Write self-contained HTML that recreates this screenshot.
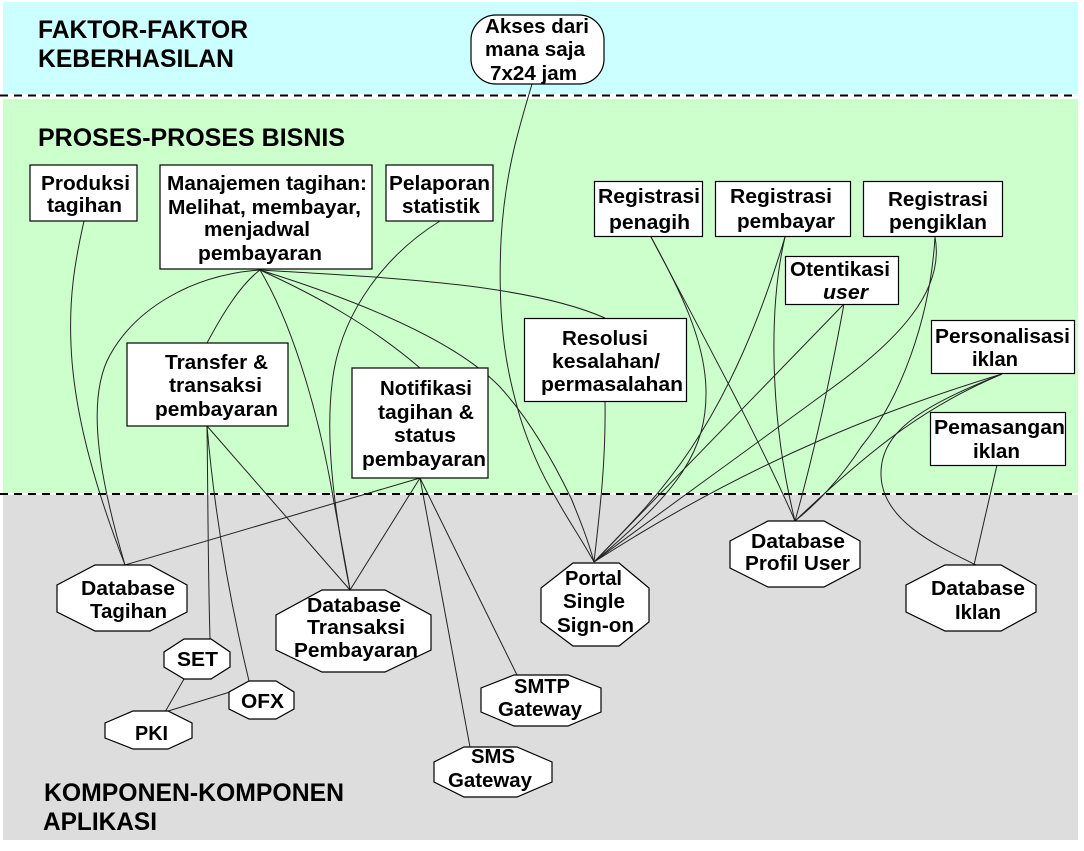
<!DOCTYPE html>
<html><head><meta charset="utf-8"><style>
html,body{margin:0;padding:0;background:#fff}
svg{display:block}
text{font-family:"Liberation Sans",sans-serif;font-weight:bold;font-size:20px;fill:#000}
.h{font-size:25px}
.b{fill:#fff;stroke:#000;stroke-width:1.2}
.c{fill:none;stroke:#222;stroke-width:1}
</style></head><body>
<svg width="1084" height="851" viewBox="0 0 1084 851" xmlns="http://www.w3.org/2000/svg">
<rect x="3" y="2" width="1075" height="92" fill="#ccffff"/>
<rect x="3" y="99" width="1075" height="394" fill="#ccffcc"/>
<rect x="3" y="495" width="1075" height="345" fill="#dddddd"/>
<path d="M0 95.5H1078M0 494H1078" stroke="#000" stroke-width="2" stroke-dasharray="8 6" fill="none"/>

<g class="c">
<path class="c" d="M532 84C520 125 505 170 501 240C497 330 508 375 520 417C532 455 545 480 556 498C568 520 582 540 594 562"/>
<path class="c" d="M84 221C74 265 69 300 71 345C74 420 100 500 125 565"/>
<path class="c" d="M260 270C190 275 135 310 110 355C85 400 100 480 125 565"/>
<path class="c" d="M260 270C240 285 222 315 207 343"/>
<path class="c" d="M260 270C315 295 370 325 420 368"/>
<path class="c" d="M260 270C290 320 315 400 330 480C338 525 345 560 350 590"/>
<path class="c" d="M260 270C340 295 450 335 500 387C530 420 555 465 571 498C580 520 588 540 594 562"/>
<path class="c" d="M260 270C400 278 530 285 605 318"/>
<path class="c" d="M440 221C385 255 345 310 334 370C322 440 338 530 350 590"/>
<path class="c" d="M207 426C208 500 208 570 210 639"/>
<path class="c" d="M207 426C215 520 232 610 249 681"/>
<path class="c" d="M207 426L350 590"/>
<path class="c" d="M420 478L125 565"/>
<path class="c" d="M420 478L350 590"/>
<path class="c" d="M420 478L517 675"/>
<path class="c" d="M420 478C440 590 455 670 470 747"/>
<path class="c" d="M184 679L165 712M230 692L165 712"/>
<path class="c" d="M605 401C606 460 600 510 594 562"/>
<path class="c" d="M651 237C680 290 705 340 706 390C707 450 680 490 594 562"/>
<path class="c" d="M651 237C700 330 760 440 795 521"/>
<path class="c" d="M785 237C760 320 730 390 690 450C660 495 625 530 594 562"/>
<path class="c" d="M785 237C768 310 770 420 795 521"/>
<path class="c" d="M844 304L594 562"/>
<path class="c" d="M844 304C830 380 815 450 795 521"/>
<path class="c" d="M935 237C945 290 900 340 825 393C720 470 650 520 594 562"/>
<path class="c" d="M935 237C930 320 900 400 861 447C840 480 815 505 795 521"/>
<path class="c" d="M1002 374C900 405 760 455 594 562"/>
<path class="c" d="M1002 374C930 405 880 440 795 521"/>
<path class="c" d="M1002 374C925 405 880 430 881 475C882 520 935 545 976 565"/>
<path class="c" d="M997 465L974 565"/>
</g>

<rect class="b" x="30" y="165" width="107" height="56"/>
<rect class="b" x="160" y="165" width="212" height="104"/>
<rect class="b" x="386" y="165" width="107" height="56"/>
<rect class="b" x="594.500" y="181.500" width="108" height="55"/>
<rect class="b" x="715.500" y="181.500" width="135" height="55"/>
<rect class="b" x="863.500" y="181.500" width="139" height="55"/>
<rect class="b" x="785.500" y="256.500" width="113" height="48"/>
<rect class="b" x="524.500" y="318.500" width="162" height="83"/>
<rect class="b" x="931.500" y="320.500" width="143" height="53"/>
<rect class="b" x="930.500" y="412.500" width="135" height="53"/>
<rect class="b" x="127" y="343" width="161" height="83"/>
<rect class="b" x="352" y="368" width="136" height="110"/>
<rect class="b" x="471" y="15" width="133" height="69" rx="25" ry="25"/>

<polygon class="b" points="95,565 150,565 187,585 187,612 150,631 95,631 57,612 57,585"/>
<polygon class="b" points="322,590 385,590 431,615 431,650 385,672 322,672 276,650 276,615"/>
<polygon class="b" points="184,639 211,639 230,652 230,667 211,679 184,679 164,667 164,652"/>
<polygon class="b" points="249,681 276,681 294,692 294,709 276,719 249,719 229,709 229,692"/>
<polygon class="b" points="133,711 168,711 192,723 192,738 168,749 133,749 105,738 105,723"/>
<polygon class="b" points="464,747 517,747 552,762 552,782 517,797 464,797 434,782 434,762"/>
<polygon class="b" points="514,675 568,675 601,688 601,712 568,726 514,726 481,712 481,688"/>
<polygon class="b" points="573,563 619,563 649,588 649,622 619,646 573,646 541,622 541,588"/>
<polygon class="b" points="768,521 824,521 860,541 860,568 824,587 768,587 730,568 730,541"/>
<polygon class="b" points="945,565 1001,565 1036,585 1036,612 1001,631 945,631 906,612 906,585"/>

<g>
<text class="h" x="38" y="38" textLength="210" lengthAdjust="spacingAndGlyphs">FAKTOR-FAKTOR</text>
<text class="h" x="38" y="67" textLength="196" lengthAdjust="spacingAndGlyphs">KEBERHASILAN</text>
<text class="h" x="38" y="146" textLength="307" lengthAdjust="spacingAndGlyphs">PROSES-PROSES BISNIS</text>
<text class="h" x="44" y="801" textLength="300" lengthAdjust="spacingAndGlyphs">KOMPONEN-KOMPONEN</text>
<text class="h" x="43" y="830" textLength="114" lengthAdjust="spacingAndGlyphs">APLIKASI</text>

<text x="41" y="190" textLength="89" lengthAdjust="spacingAndGlyphs">Produksi</text>
<text x="47" y="212" textLength="75" lengthAdjust="spacingAndGlyphs">tagihan</text>
<text x="167" y="190" textLength="200" lengthAdjust="spacingAndGlyphs">Manajemen tagihan:</text>
<text x="168" y="214" textLength="193" lengthAdjust="spacingAndGlyphs">Melihat, membayar,</text>
<text x="204" y="236" textLength="106" lengthAdjust="spacingAndGlyphs">menjadwal</text>
<text x="198" y="260" textLength="124" lengthAdjust="spacingAndGlyphs">pembayaran</text>
<text x="389" y="190" textLength="101" lengthAdjust="spacingAndGlyphs">Pelaporan</text>
<text x="402" y="213" textLength="78" lengthAdjust="spacingAndGlyphs">statistik</text>
<text x="485" y="33" textLength="104" lengthAdjust="spacingAndGlyphs">Akses dari</text>
<text x="485" y="56" textLength="100" lengthAdjust="spacingAndGlyphs">mana saja</text>
<text x="490" y="80" textLength="87" lengthAdjust="spacingAndGlyphs">7x24 jam</text>
<text x="598" y="203" textLength="102" lengthAdjust="spacingAndGlyphs">Registrasi</text>
<text x="609" y="229" textLength="81" lengthAdjust="spacingAndGlyphs">penagih</text>
<text x="730" y="203" textLength="102" lengthAdjust="spacingAndGlyphs">Registrasi</text>
<text x="737" y="228" textLength="98" lengthAdjust="spacingAndGlyphs">pembayar</text>
<text x="888" y="206" textLength="100" lengthAdjust="spacingAndGlyphs">Registrasi</text>
<text x="889" y="229" textLength="98" lengthAdjust="spacingAndGlyphs">pengiklan</text>
<text x="790" y="276" textLength="100" lengthAdjust="spacingAndGlyphs">Otentikasi</text>
<text x="823" y="299" textLength="45" lengthAdjust="spacingAndGlyphs" font-style="italic">user</text>
<text x="562" y="345" textLength="86" lengthAdjust="spacingAndGlyphs">Resolusi</text>
<text x="552" y="368" textLength="108" lengthAdjust="spacingAndGlyphs">kesalahan/</text>
<text x="541" y="391" textLength="142" lengthAdjust="spacingAndGlyphs">permasalahan</text>
<text x="935" y="343" textLength="135" lengthAdjust="spacingAndGlyphs">Personalisasi</text>
<text x="972" y="366" textLength="46" lengthAdjust="spacingAndGlyphs">iklan</text>
<text x="934" y="434" textLength="131" lengthAdjust="spacingAndGlyphs">Pemasangan</text>
<text x="973" y="458" textLength="47" lengthAdjust="spacingAndGlyphs">iklan</text>
<text x="165" y="369" textLength="103" lengthAdjust="spacingAndGlyphs">Transfer &amp;</text>
<text x="169" y="392" textLength="93" lengthAdjust="spacingAndGlyphs">transaksi</text>
<text x="155" y="416" textLength="123" lengthAdjust="spacingAndGlyphs">pembayaran</text>
<text x="380" y="395" textLength="92" lengthAdjust="spacingAndGlyphs">Notifikasi</text>
<text x="378" y="419" textLength="96" lengthAdjust="spacingAndGlyphs">tagihan &amp;</text>
<text x="394" y="442" textLength="62" lengthAdjust="spacingAndGlyphs">status</text>
<text x="362" y="466" textLength="124" lengthAdjust="spacingAndGlyphs">pembayaran</text>
<text x="81" y="595" textLength="94" lengthAdjust="spacingAndGlyphs">Database</text>
<text x="90" y="618" textLength="77" lengthAdjust="spacingAndGlyphs">Tagihan</text>
<text x="307" y="612" textLength="94" lengthAdjust="spacingAndGlyphs">Database</text>
<text x="307" y="634" textLength="98" lengthAdjust="spacingAndGlyphs">Transaksi</text>
<text x="294" y="657" textLength="124" lengthAdjust="spacingAndGlyphs">Pembayaran</text>
<text x="177" y="666" textLength="41" lengthAdjust="spacingAndGlyphs">SET</text>
<text x="241" y="708" textLength="43" lengthAdjust="spacingAndGlyphs">OFX</text>
<text x="135" y="740" textLength="33" lengthAdjust="spacingAndGlyphs">PKI</text>
<text x="471" y="763" textLength="44" lengthAdjust="spacingAndGlyphs">SMS</text>
<text x="448" y="787" textLength="84" lengthAdjust="spacingAndGlyphs">Gateway</text>
<text x="514" y="693" textLength="56" lengthAdjust="spacingAndGlyphs">SMTP</text>
<text x="498" y="716" textLength="84" lengthAdjust="spacingAndGlyphs">Gateway</text>
<text x="565" y="585" textLength="57" lengthAdjust="spacingAndGlyphs">Portal</text>
<text x="563" y="608" textLength="62" lengthAdjust="spacingAndGlyphs">Single</text>
<text x="557" y="632" textLength="77" lengthAdjust="spacingAndGlyphs">Sign-on</text>
<text x="751" y="548" textLength="94" lengthAdjust="spacingAndGlyphs">Database</text>
<text x="745" y="570" textLength="105" lengthAdjust="spacingAndGlyphs">Profil User</text>
<text x="931" y="595" textLength="94" lengthAdjust="spacingAndGlyphs">Database</text>
<text x="955" y="619" textLength="46" lengthAdjust="spacingAndGlyphs">Iklan</text>
</g>
</svg>
</body></html>
